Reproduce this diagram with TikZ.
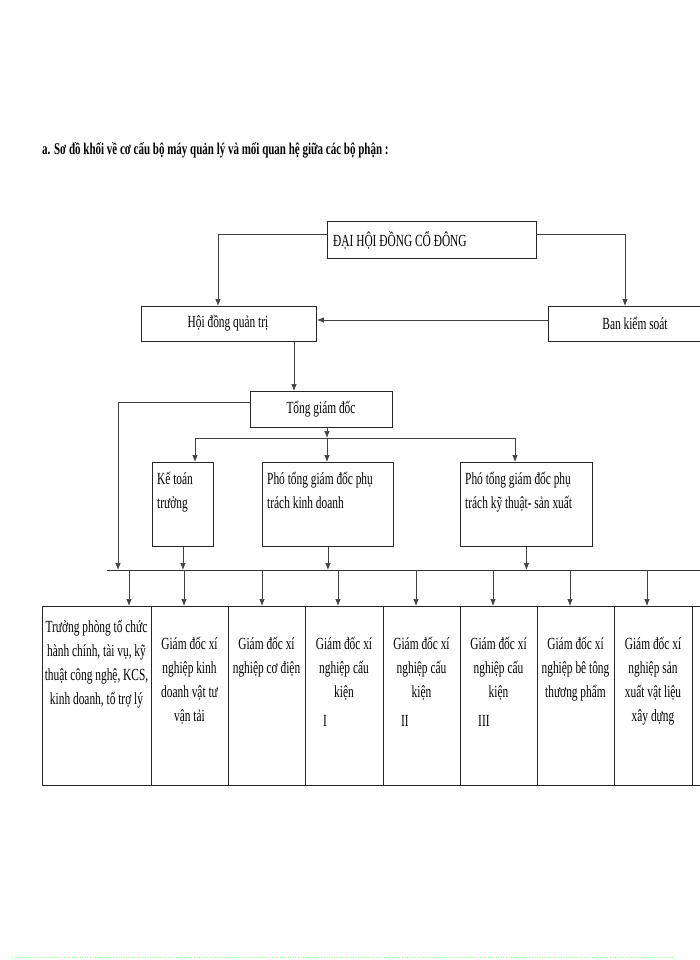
\documentclass[tikz,border=0pt]{standalone}
\usepackage{fontspec}
\setmainfont{Liberation Serif}[FakeStretch=0.67]
\usetikzlibrary{arrows.meta}
\tikzset{
  box/.style={draw=black!85, line width=0.9pt, inner sep=0pt, anchor=north west},
  ln/.style={draw=black!75, line width=0.7pt},
  arr/.style={ln, -{Latex[length=7pt,width=5.5pt]}},
  txt/.style={font=\fontsize{17}{24}\selectfont, inner sep=0pt, align=center},
  ltxt/.style={font=\fontsize{17}{24}\selectfont, inner sep=0pt, align=left, anchor=north west},
}
\begin{document}
\begin{tikzpicture}[x=1pt,y=-1pt]
\useasboundingbox (0,0) rectangle (700,960);
% title
\node[font=\bfseries\fontsize{16.4}{20}\selectfont, anchor=west, inner sep=0pt] (title) at (42,150)
  {a. Sơ đồ khối về cơ cấu bộ máy quản lý và mối quan hệ giữa các bộ phận :};
% level 1
\node[box, minimum width=209pt, minimum height=37pt] (dh) at (327,221) {};
\node[ltxt, anchor=west] (dht) at (333,240) {ĐẠI HỘI ĐỒNG CỔ ĐÔNG};
% level 2
\node[box, minimum width=175pt, minimum height=35pt] (hd) at (141,306) {};
\node[txt] (hdt) at (228,323) {Hội đồng quản trị};
\node[box, minimum width=180pt, minimum height=35pt] (bks) at (548,306) {};
\node[txt] (bkst) at (635,323) {Ban kiểm soát};
% level 3
\node[box, minimum width=142pt, minimum height=36pt] (tgd) at (250,391) {};
\node[txt] (tgdt) at (321,409) {Tổng giám đốc};
% level 4
\node[box, minimum width=61pt, minimum height=84pt] (kt) at (152,462) {};
\node[ltxt] (ktt) at (157,472) {Kế toán\\trưởng};
\node[box, minimum width=131pt, minimum height=84pt] (pkd) at (262,462) {};
\node[ltxt] (pkdt) at (267,472) {Phó tổng giám đốc phụ\\trách kinh doanh};
\node[box, minimum width=132pt, minimum height=84pt] (pkt) at (460,462) {};
\node[ltxt] (pktt) at (465,472) {Phó tổng giám đốc phụ\\trách kỹ thuật- sản xuất};
% bottom row
\node[box, minimum width=109pt, minimum height=179pt] (b1) at (42,606) {};
\node[box, minimum width=77pt, minimum height=179pt] (b2) at (151,606) {};
\node[box, minimum width=77pt, minimum height=179pt] (b3) at (228,606) {};
\node[box, minimum width=78pt, minimum height=179pt] (b4) at (305,606) {};
\node[box, minimum width=77pt, minimum height=179pt] (b5) at (383,606) {};
\node[box, minimum width=77pt, minimum height=179pt] (b6) at (460,606) {};
\node[box, minimum width=77pt, minimum height=179pt] (b7) at (537,606) {};
\node[box, minimum width=78pt, minimum height=179pt] (b8) at (614,606) {};
\node[box, minimum width=77pt, minimum height=179pt] (b9) at (692,606) {};
\node[txt, anchor=north] (b1t) at (96.5,620) {Trưởng phòng tổ chức\\hành chính, tài vụ, kỹ\\thuật công nghệ, KCS,\\kinh doanh, tổ trợ lý};
\node[txt, anchor=north] (b2t) at (189.5,637) {Giám đốc xí\\nghiệp kinh\\doanh vật tư\\vận tải};
\node[txt, anchor=north] (b3t) at (266.5,637) {Giám đốc xí\\nghiệp cơ điện};
\node[txt, anchor=north] (b4t) at (344,637) {Giám đốc xí\\nghiệp cấu\\kiện};
\node[txt, anchor=west] (b4n) at (323,721) {I};
\node[txt, anchor=north] (b5t) at (421.5,637) {Giám đốc xí\\nghiệp cấu\\kiện};
\node[txt, anchor=west] (b5n) at (401,721) {II};
\node[txt, anchor=north] (b6t) at (498.5,637) {Giám đốc xí\\nghiệp cấu\\kiện};
\node[txt, anchor=west] (b6n) at (478,721) {III};
\node[txt, anchor=north] (b7t) at (575.5,637) {Giám đốc xí\\nghiệp bê tông\\thương phẩm};
\node[txt, anchor=north] (b8t) at (653,637) {Giám đốc xí\\nghiệp sản\\xuất vật liệu\\xây dựng};
% coordinates
\coordinate (tl) at (218,234);
\coordinate (tr) at (625,234);
\coordinate (hx) at (294,0);
\coordinate (my) at (0,320);
\coordinate (gl) at (118,402);
\coordinate (sl) at (195,438);
\coordinate (sm) at (327,438);
\coordinate (sr) at (515,438);
\coordinate (busL) at (107,570);
\coordinate (busR) at (710,570);
% connectors
\draw[arr] (dh.west |- tl) -- (tl) -- (tl |- hd.north);
\draw[arr] (dh.east |- tr) -- (tr) -- (tr |- bks.north);
\draw[arr] (bks.west |- my) -- (hd.east |- my);
\draw[arr] (hd.south -| hx) -- (tgd.north -| hx);
\draw[arr] (tgd.west |- gl) -- (gl) -- (gl |- busL);
\draw[arr] (tgd.south -| sm) -- (sm);
\draw[ln] (sl) -- (sr);
\draw[arr] (sl) -- (sl |- kt.north);
\draw[arr] (sm) -- (sm |- pkd.north);
\draw[arr] (sr) -- (sr |- pkt.north);
\draw[line width=1pt, draw=black!80] (busL) -- (busR);
\draw[arr] (kt.south) -- (kt.south |- busL);
\draw[arr] (pkd.south) -- (pkd.south |- busL);
\draw[arr] (pkt.south) -- (pkt.south |- busL);
\foreach \x/\b in {129/b1,184/b2,262/b3,338/b4,416/b5,493/b6,570/b7,647/b8}
  \draw[arr] (\x,570) -- (\b.north -| \x,0);
% faint dotted rule
\coordinate (dl) at (12,957);
\coordinate (dr) at (673,957);
\draw[green!45, line width=0.6pt, dotted] (dl) -- (dr);
\end{tikzpicture}
\end{document}
